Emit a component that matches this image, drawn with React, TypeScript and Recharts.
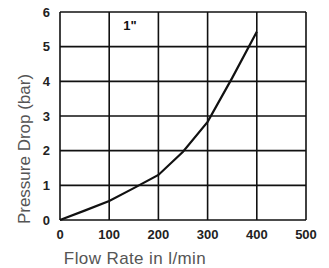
import React from 'react';
import { LineChart, Line, XAxis, YAxis, CartesianGrid, ReferenceDot, Label } from 'recharts';

// flow rate (l/min) and pressure drop (bar)
const flowRates = [0, 50, 100, 150, 200, 250, 300, 350, 400];
const pressureDrops = [0, 0.27, 0.55, 0.92, 1.3, 1.97, 2.83, 4.1, 5.43];

const xTicks = [0, 100, 200, 300, 400, 500];
const yTicks = [0, 1, 2, 3, 4, 5, 6];

const sizeLabel = '1"';

const FONT = '"Liberation Sans", Arial, sans-serif';

export default function App() {
  const data = flowRates.map((q, i) => ({ q, dp: pressureDrops[i] }));

  const tickStyle = { fill: '#222', fontSize: 13, fontWeight: 700, fontFamily: FONT };

  return (
    <div style={{ position: 'absolute', left: 0, top: 0, background: '#fff' }}>
      <LineChart
        width={329}
        height={268}
        data={data}
        margin={{ top: 12, right: 23, bottom: 18, left: 0 }}
      >
        <CartesianGrid stroke="#111" strokeWidth={1.6} />
        <XAxis
          dataKey="q"
          type="number"
          domain={[0, 500]}
          ticks={xTicks}
          interval={0}
          height={30}
          axisLine={false}
          tickLine={false}
          tick={tickStyle}
          tickMargin={4}
        >
          <Label
            value="Flow Rate in l/min"
            position="insideBottom"
            offset={-14}
            dx={-48}
            style={{ fill: '#555', fontSize: 17, letterSpacing: 0.4, fontFamily: FONT }}
          />
        </XAxis>
        <YAxis
          type="number"
          domain={[0, 6]}
          ticks={yTicks}
          interval={0}
          width={60}
          axisLine={false}
          tickLine={false}
          tick={tickStyle}
          tickMargin={4}
        >
          <Label
            value="Pressure Drop (bar)"
            angle={-90}
            position="insideLeft"
            offset={24}
            dy={33}
            style={{ fill: '#555', fontSize: 17, fontFamily: FONT, textAnchor: 'middle' }}
          />
        </YAxis>
        <ReferenceDot
          x={142}
          y={5.6}
          r={0}
          fill="none"
          stroke="none"
          label={{ value: sizeLabel, fill: '#111', fontSize: 13, fontWeight: 700, fontFamily: FONT }}
        />
        <Line
          type="linear"
          dataKey="dp"
          stroke="#111"
          strokeWidth={2.2}
          dot={false}
          isAnimationActive={false}
        />
      </LineChart>
    </div>
  );
}
